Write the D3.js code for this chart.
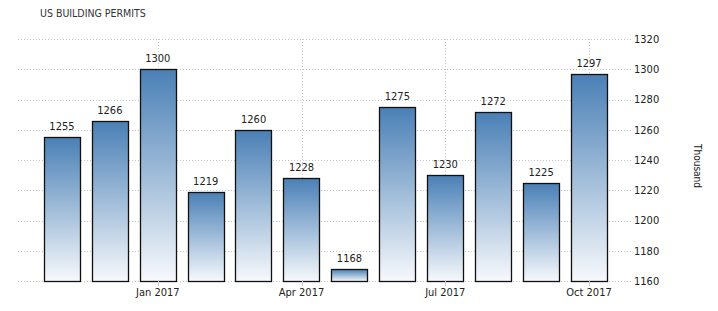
<!DOCTYPE html>
<html>
<head>
<meta charset="utf-8">
<script src="https://cdn.jsdelivr.net/npm/d3@7"></script>
<style>
  body { margin: 0; background: #fff; }
  text { font-family: "DejaVu Sans Condensed", "DejaVu Sans", sans-serif; fill: #222; }
</style>
</head>
<body>
<div id="chart"></div>
<script>
// data
var months = ["Nov 2016", "Dec 2016", "Jan 2017", "Feb 2017", "Mar 2017", "Apr 2017",
              "May 2017", "Jun 2017", "Jul 2017", "Aug 2017", "Sep 2017", "Oct 2017"];
var permits = [1255, 1266, 1300, 1219, 1260, 1228, 1168, 1275, 1230, 1272, 1225, 1297];
var xTicks = ["Jan 2017", "Apr 2017", "Jul 2017", "Oct 2017"];
var yTicks = [1160, 1180, 1200, 1220, 1240, 1260, 1280, 1300, 1320];

var W = 718, H = 311;
var svg = d3.select("#chart").append("svg")
    .attr("width", W)
    .attr("height", H);

var x = d3.scaleBand()
    .domain(months)
    .range([38, 613])
    .paddingInner(0.24)
    .paddingOuter(0.12);

var y = d3.scaleLinear()
    .domain([1160, 1320])
    .range([281, 39]);

// gradient for bars
var grad = svg.append("defs").append("linearGradient")
    .attr("id", "barGrad")
    .attr("x1", 0).attr("y1", 0).attr("x2", 0).attr("y2", 1);
grad.append("stop").attr("offset", "0%").attr("stop-color", "#4a80b6");
grad.append("stop").attr("offset", "100%").attr("stop-color", "#f7f9fc");

// horizontal grid
svg.append("g")
  .selectAll("line")
  .data(yTicks)
  .enter().append("line")
    .attr("x1", 18).attr("x2", 633)
    .attr("y1", function(d) { return Math.round(y(d)) + 0.5; })
    .attr("y2", function(d) { return Math.round(y(d)) + 0.5; })
    .attr("stroke", "#c8c8c8")
    .attr("stroke-dasharray", "1,2");

// vertical grid at ticks
svg.append("g")
  .selectAll("line")
  .data(xTicks)
  .enter().append("line")
    .attr("x1", function(d) { return Math.round(x(d) + x.bandwidth() / 2) + 0.5; })
    .attr("x2", function(d) { return Math.round(x(d) + x.bandwidth() / 2) + 0.5; })
    .attr("y1", 39).attr("y2", 281)
    .attr("stroke", "#c8c8c8")
    .attr("stroke-dasharray", "1,2");

// y axis labels on the right
svg.append("g")
  .selectAll("text")
  .data(yTicks)
  .enter().append("text")
    .attr("x", 634)
    .attr("y", function(d) { return y(d); })
    .attr("dy", "0.35em")
    .style("font-size", "11px")
    .text(function(d) { return d; });

// bars
svg.append("g")
  .selectAll("rect")
  .data(permits)
  .enter().append("rect")
    .attr("x", function(d, i) { return Math.round(x(months[i])) + 0.5; })
    .attr("y", function(d) { return Math.round(y(d)) + 0.5; })
    .attr("width", Math.round(x.bandwidth()))
    .attr("height", function(d) { return Math.round(y(1160)) - Math.round(y(d)); })
    .attr("fill", "url(#barGrad)")
    .attr("stroke", "#111")
    .attr("stroke-width", 1.3);

// value labels
svg.append("g")
  .selectAll("text")
  .data(permits)
  .enter().append("text")
    .attr("x", function(d, i) { return x(months[i]) + x.bandwidth() / 2; })
    .attr("y", function(d) { return y(d) - 7; })
    .attr("text-anchor", "middle")
    .style("font-size", "11px")
    .text(function(d) { return d; });

// x axis ticks + labels
var xa = svg.append("g");
xa.selectAll("line")
  .data(xTicks)
  .enter().append("line")
    .attr("x1", function(d) { return Math.round(x(d) + x.bandwidth() / 2) + 0.5; })
    .attr("x2", function(d) { return Math.round(x(d) + x.bandwidth() / 2) + 0.5; })
    .attr("y1", 281).attr("y2", 286)
    .attr("stroke", "#c8c8c8");
xa.selectAll("text")
  .data(xTicks)
  .enter().append("text")
    .attr("x", function(d) { return x(d) + x.bandwidth() / 2; })
    .attr("y", 296)
    .attr("text-anchor", "middle")
    .style("font-size", "11px")
    .text(function(d) { return d; });

// title
svg.append("text")
  .attr("x", 40)
  .attr("y", 17)
  .style("font-size", "10.5px")
  .style("fill", "#333")
  .text("US BUILDING PERMITS");

// unit label
svg.append("text")
  .attr("transform", "translate(694,166) rotate(90)")
  .attr("text-anchor", "middle")
  .style("font-size", "10px")
  .text("Thousand");
</script>
</body>
</html>
